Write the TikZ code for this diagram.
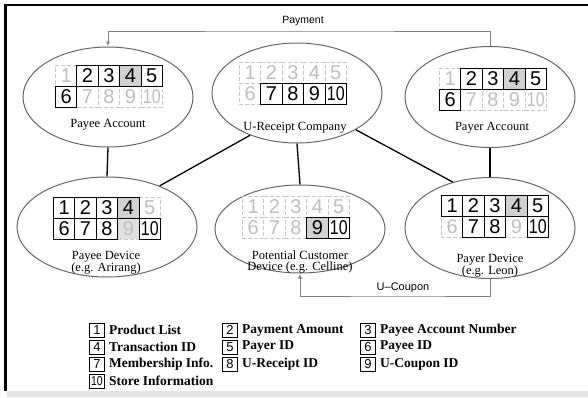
\documentclass[tikz,border=0pt]{standalone}
\usepackage{fontspec}
\setmainfont{Liberation Serif}
\setsansfont{Liberation Sans}
\usepackage{tikz}
\usetikzlibrary{shapes,arrows,positioning,calc,arrows.meta}

\newcommand{\digit}[1]{\ifnum#1=10 \scalebox{0.8}[1]{10}\else #1\fi}
\newcommand{\cellat}[3]{% grid origin, digit, style
  \pgfmathtruncatemacro\gcol{mod(#2-1,5)}%
  \pgfmathtruncatemacro\grow{(#2-1)/5}%
  \node[#3, anchor=north west] (c#1#2) at ($(#1)+(\gcol*21.4,\grow*21)$) {\digit{#2}};%
}
\newcommand{\fadegrid}[1]{\foreach \n in {1,...,10} {\cellat{#1}{\n}{fadebox}}}

\begin{document}
\begin{tikzpicture}[x=1pt,y=-1pt,
    party/.style={ellipse,draw=black!60,line width=1pt,fill=white,inner sep=0},
    digitbox/.style={draw,line width=0.9pt,fill=white,inner sep=0,minimum width=21.4pt,minimum height=21pt,font=\sffamily\fontsize{20}{20}\selectfont},
    graybox/.style={digitbox,fill=black!18},
    fadebox/.style={digitbox,draw=black!22,fill=none,dash pattern=on 4pt off 2pt,text=black!25},
    fadegray/.style={fadebox,fill=black!12},
    lbl/.style={align=center,font=\fontsize{12.5}{11}\selectfont},
    flow/.style={draw=black!50,line width=1pt,-{Latex[length=5pt,width=4pt]}},
    flowtext/.style={font=\sffamily\fontsize{10.5}{10.5}\selectfont},
    link/.style={line width=1.3pt},
    legbox/.style={draw,line width=0.8pt,inner sep=0,minimum width=15pt,minimum height=14pt,font=\sffamily\fontsize{13}{13}\selectfont},
    legtext/.style={inner sep=0,font=\bfseries\fontsize{13.5}{13.5}\selectfont}]
    \useasboundingbox (0,0) rectangle (588,397);

    % frame
    \draw[line width=2.5pt] (588,5) -- (5.7,5) -- (5.7,391);
    \fill[black!10] (7,391) rectangle (588,397);

    % parties
    \node[party,minimum width=170pt,minimum height=100pt] (payeeacc) at (108,97) {};
    \node[party,minimum width=170pt,minimum height=100pt] (urc) at (297,93) {};
    \node[party,minimum width=170pt,minimum height=101pt] (payeracc) at (490,97) {};
    \node[party,minimum width=180pt,minimum height=100pt] (payeedev) at (107,227) {};
    \node[party,minimum width=170pt,minimum height=88pt] (pcust) at (300,229) {};
    \node[party,minimum width=170pt,minimum height=101pt] (payerdev) at (490,228) {};

    % grid origins
    \coordinate (ga) at (55,65);
    \coordinate (gb) at (239,62);
    \coordinate (gc) at (439,68);
    \coordinate (gd) at (53,197);
    \coordinate (ge) at (242,196);
    \coordinate (gf) at (441,195);

    % Payee Account
    \fadegrid{ga}
    \foreach \n in {2,3,5,6} {\cellat{ga}{\n}{digitbox}}
    \cellat{ga}{4}{graybox}
    % U-Receipt Company
    \fadegrid{gb}
    \foreach \n in {7,8,9,10} {\cellat{gb}{\n}{digitbox}}
    % Payer Account
    \fadegrid{gc}
    \foreach \n in {2,3,5,6} {\cellat{gc}{\n}{digitbox}}
    \cellat{gc}{4}{graybox}
    % Payee Device
    \fadegrid{gd}
    \cellat{gd}{9}{fadegray}
    \foreach \n in {1,2,3,6,7,8,10} {\cellat{gd}{\n}{digitbox}}
    \cellat{gd}{4}{graybox}
    % Potential Customer
    \fadegrid{ge}
    \cellat{ge}{9}{graybox}
    \cellat{ge}{10}{digitbox}
    % Payer Device
    \fadegrid{gf}
    \foreach \n in {1,2,3,5,7,8,10} {\cellat{gf}{\n}{digitbox}}
    \cellat{gf}{4}{graybox}

    % labels
    \node[lbl] (lpayeeacc) at (108,125) {Payee Account};
    \node[lbl] (lurc) at (295,128) {U-Receipt Company};
    \node[lbl] (lpayeracc) at (492,128) {Payer Account};
    \node[lbl] (lpayeedev) at (106,263) {Payee Device\\(e.g. Arirang)};
    \node[lbl] (lpcust) at (300,262) {Potential Customer\\Device (e.g. Celline)};
    \node[lbl] (lpayerdev) at (490,266) {Payer Device\\(e.g. Leon)};

    % links
    \draw[link] (payeeacc.south) -- (payeedev.north);
    \draw[link] (payeracc.south) -- (payerdev.north);
    \draw[link] (urc.south) -- (pcust.north);
    \draw[link] (urc.222) -- (payeedev.38);
    \draw[link] (urc.328) -- (payerdev.129);

    % flows
    \coordinate (payrail) at (300,31);
    \coordinate (couprail) at (400,296);
    \draw[flow] (payeracc.north) |- (payrail) -| (payeeacc.north);
    \draw[flow] (payerdev.south) |- (couprail) -| (pcust.south);
    \node[flowtext] (paylbl) at (303,21) {Payment};
    \node[flowtext,font=\sffamily\fontsize{11}{11}\selectfont] (couplbl) at (403,288) {U--Coupon};

    % legend
    \foreach \n/\lx/\ly/\txt in {1/97/330/Product List, 2/230/330/Payment Amount, 3/368/330/Payee Account Number,
        4/97/347/Transaction ID, 5/230/347/Payer ID, 6/368/347/Payee ID,
        7/97/364/Membership Info., 8/230/364/U-Receipt ID, 9/368/364/U-Coupon ID,
        10/97/381/Store Information} {
      \node[legbox] (leg\n) at (\lx,\ly) {\digit{\n}};
      \node[legtext,right=4pt of leg\n] (legt\n) {\txt};
    }
\end{tikzpicture}
\end{document}
